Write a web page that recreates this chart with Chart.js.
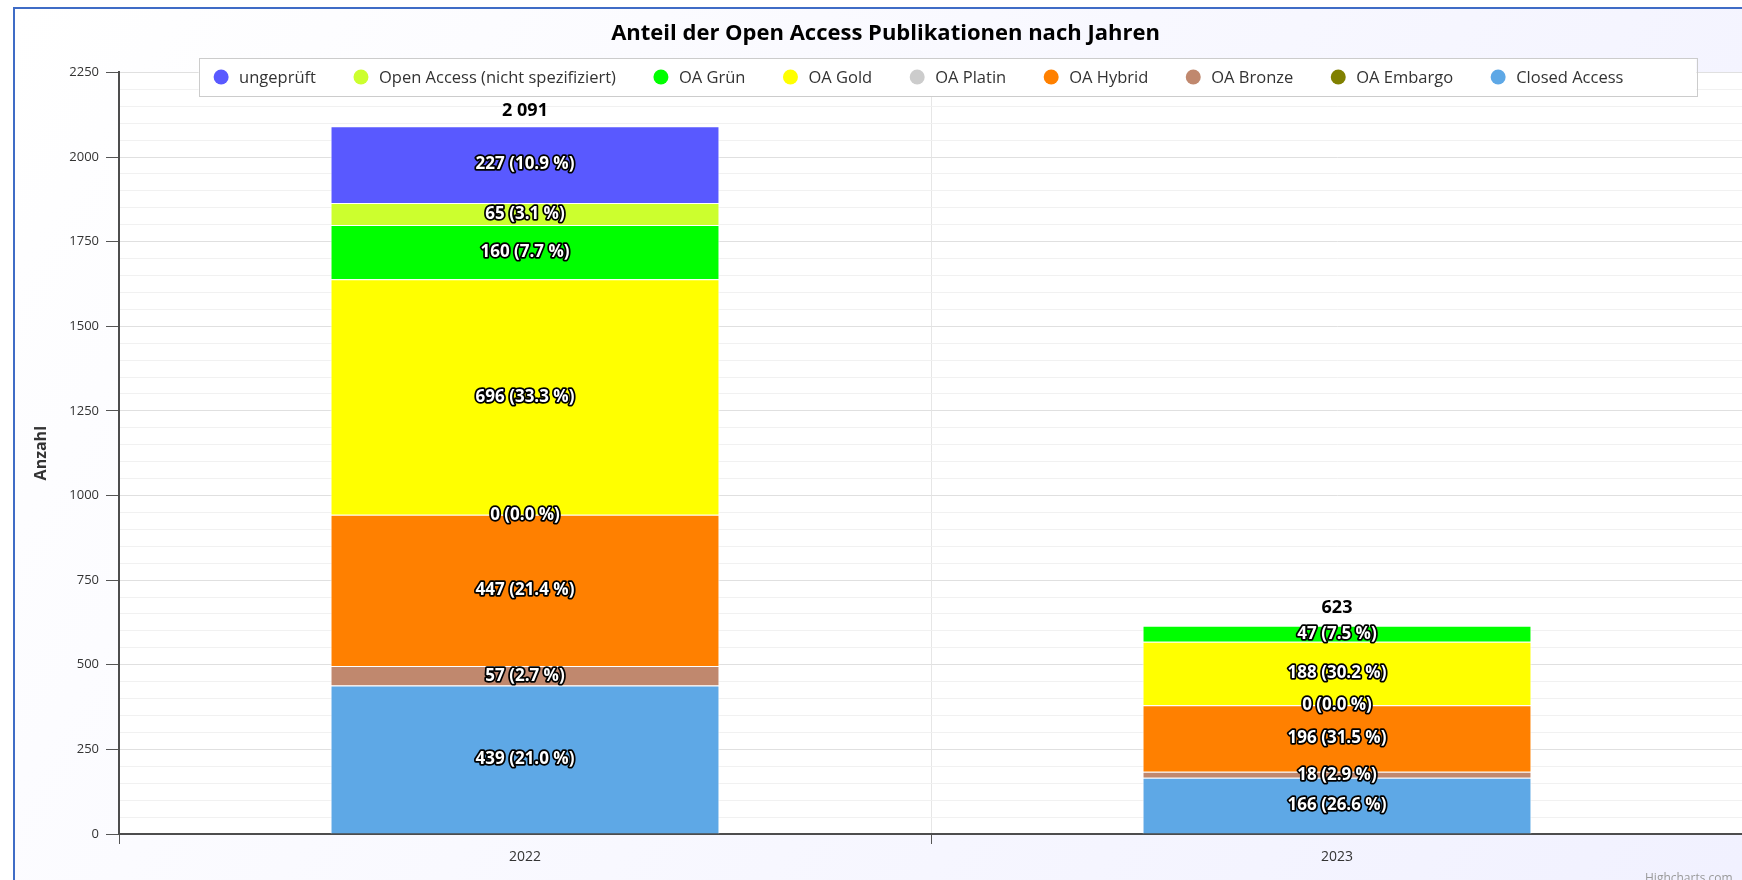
<!DOCTYPE html>
<html>
<head>
<meta charset="utf-8">
<title>Anteil der Open Access Publikationen nach Jahren</title>
<script src="https://cdn.jsdelivr.net/npm/chart.js@4.4.1/dist/chart.umd.min.js"></script>
<style>
  html, body { margin: 0; padding: 0; overflow: hidden; background: #fff; }
  #wrap { width: 1760px; height: 880px; }
</style>
</head>
<body>
<div id="wrap"><canvas id="oaChart" width="1760" height="880"></canvas></div>
<script>
// --- data ---
var categories = ['2022', '2023'];
var seriesNames = ['ungeprüft', 'Open Access (nicht spezifiziert)', 'OA Grün', 'OA Gold', 'OA Platin', 'OA Hybrid', 'OA Bronze', 'OA Embargo', 'Closed Access'];
var seriesColors = ['#5959ff', '#ccff2e', '#00ff00', '#ffff00', '#cccccc', '#ff8000', '#c0886e', '#808000', '#5ea8e6'];

var ungeprueft   = [227, null];
var oaNichtSpez  = [65, null];
var oaGruen      = [160, 47];
var oaGold       = [696, 188];
var oaPlatin     = [0, 0];
var oaHybrid     = [447, 196];
var oaBronze     = [57, 18];
var oaEmbargo    = [null, null];
var closedAccess = [439, 166];

var totals = [2091, 623];
var yMajorTicks = [0, 250, 500, 750, 1000, 1250, 1500, 1750, 2000, 2250];

var seriesValues = [ungeprueft, oaNichtSpez, oaGruen, oaGold, oaPlatin, oaHybrid, oaBronze, oaEmbargo, closedAccess];

var FONT = '"Open Sans", "Noto Sans", sans-serif';

function fmtThousands(n) {
	return String(n).replace(/\B(?=(\d{3})+(?!\d))/g, ' ');
}

// highcharts stacks the first series on top, so build them bottom-up
var datasets = [];
for (var i = seriesNames.length - 1; i >= 0; i--) {
	datasets.push({
		label: seriesNames[i],
		data: seriesValues[i],
		backgroundColor: seriesColors[i],
		borderColor: '#ffffff',
		borderWidth: 1,
		barPercentage: 0.479,
		categoryPercentage: 1.0
	});
}

var backgroundPlugin = {
	id: 'hcBackground',
	beforeDraw: function(chart) {
		var ctx = chart.ctx, a = chart.chartArea;
		ctx.save();
		ctx.fillStyle = '#ffffff';
		ctx.fillRect(0, 0, chart.width, chart.height);
		var g = ctx.createLinearGradient(14, 8, 1760, 1100);
		g.addColorStop(0, '#ffffff');
		g.addColorStop(1, '#f0f0ff');
		ctx.fillStyle = g;
		ctx.fillRect(14, 8, chart.width, chart.height);
		ctx.strokeStyle = '#3f6cc6';
		ctx.lineWidth = 2;
		ctx.strokeRect(14, 8, chart.width + 20, chart.height + 20);
		ctx.fillStyle = '#ffffff';
		ctx.fillRect(a.left, a.top, a.right - a.left, a.bottom - a.top);
		ctx.restore();
	}
};

var labelPlugin = {
	id: 'hcLabels',
	afterDatasetsDraw: function(chart) {
		var ctx = chart.ctx;
		var yScale = chart.scales.y;
		ctx.save();
		ctx.textAlign = 'center';
		ctx.textBaseline = 'middle';
		ctx.lineJoin = 'round';
		ctx.font = 'bold 17px ' + FONT;
		chart.data.datasets.forEach(function(ds, di) {
			var meta = chart.getDatasetMeta(di);
			meta.data.forEach(function(bar, j) {
				var v = ds.data[j];
				if (v === null || v === undefined) return;
				var pct = v / totals[j] * 100;
				var txt = v + ' (' + pct.toFixed(1) + ' %)';
				var y = (bar.y + bar.base) / 2;
				ctx.strokeStyle = '#000000';
				ctx.lineWidth = 3.5;
				ctx.strokeText(txt, bar.x, y);
				ctx.fillStyle = '#ffffff';
				ctx.fillText(txt, bar.x, y);
			});
		});
		// stack totals
		ctx.font = 'bold 18px ' + FONT;
		ctx.fillStyle = '#000000';
		var meta0 = chart.getDatasetMeta(0);
		totals.forEach(function(t, j) {
			var x = meta0.data[j].x;
			ctx.fillText(fmtThousands(t), x, yScale.getPixelForValue(t) - 15);
		});
		ctx.restore();
	}
};

var legendPlugin = {
	id: 'hcLegend',
	afterDraw: function(chart) {
		var ctx = chart.ctx;
		ctx.save();
		ctx.font = '16.5px ' + FONT;
		ctx.textBaseline = 'middle';
		ctx.textAlign = 'left';
		var r = 7.5, textGap = 18, itemGap = 45;
		var widths = seriesNames.map(function(n) { return ctx.measureText(n).width; });
		var inner = 0;
		widths.forEach(function(w, i) {
			inner += r + textGap + w;
			if (i < widths.length - 1) inner += itemGap;
		});
		var boxW = inner + 15 + 13;
		var boxL = 947.5 - boxW / 2, boxT = 58, boxH = 38;
		ctx.fillStyle = '#ffffff';
		ctx.fillRect(boxL, boxT, boxW, boxH);
		ctx.strokeStyle = '#cccccc';
		ctx.lineWidth = 1;
		ctx.strokeRect(Math.round(boxL) + 0.5, boxT + 0.5, Math.round(boxW), boxH);
		var cy = boxT + boxH / 2;
		var x = boxL + 15;
		seriesNames.forEach(function(n, i) {
			var cx = x + r;
			ctx.beginPath();
			ctx.arc(cx, cy, r, 0, Math.PI * 2);
			ctx.fillStyle = seriesColors[i];
			ctx.fill();
			ctx.fillStyle = '#333333';
			ctx.fillText(n, cx + textGap, cy + 1);
			x = cx + textGap + widths[i] + itemGap - r;
		});
		// credits, cut off at the bottom like in the screenshot
		ctx.font = '12px ' + FONT;
		ctx.fillStyle = '#999999';
		ctx.textBaseline = 'alphabetic';
		ctx.fillText('Highcharts.com', 1645, 882);
		ctx.restore();
	}
};

new Chart(document.getElementById('oaChart'), {
	type: 'bar',
	data: {
		labels: categories,
		datasets: datasets
	},
	options: {
		responsive: false,
		devicePixelRatio: 1,
		animation: false,
		layout: { padding: { left: 28, right: 17, top: 0, bottom: 0 } },
		plugins: {
			legend: { display: false },
			tooltip: { enabled: false },
			title: {
				display: true,
				text: 'Anteil der Open Access Publikationen nach Jahren',
				color: '#000000',
				font: { family: FONT, size: 22, weight: 'bold' },
				padding: { top: 21, bottom: 25 }
			}
		},
		scales: {
			x: {
				stacked: true,
				offset: true,
				afterFit: function(s) { s.height = 46; },
				grid: {
					offset: true,
					color: '#e6e6e6',
					tickColor: '#555555',
					tickLength: 10
				},
				border: { color: '#4d4d4d', width: 2 },
				ticks: { color: '#333333', padding: 5, font: { family: FONT, size: 14 } }
			},
			y: {
				stacked: true,
				min: 0,
				max: 2250,
				afterFit: function(s) { s.width = 91; },
				title: {
					display: true,
					text: 'Anzahl',
					color: '#333333',
					font: { family: FONT, size: 16, weight: 'bold' },
					padding: { top: 4, bottom: 0 }
				},
				grid: {
					color: function(c) { return c.tick && yMajorTicks.indexOf(c.tick.value) >= 0 ? '#e0e0e0' : '#f1f1f1'; },
					tickColor: function(c) { return c.tick && yMajorTicks.indexOf(c.tick.value) >= 0 ? '#555555' : 'rgba(0,0,0,0)'; },
					tickLength: 13
				},
				border: { color: '#4d4d4d', width: 2 },
				ticks: {
					stepSize: 50,
					autoSkip: false,
					padding: 7,
					color: '#333333',
					font: { family: FONT, size: 13 },
					callback: function(v) { return yMajorTicks.indexOf(v) >= 0 ? String(v) : ''; }
				}
			}
		}
	},
	plugins: [backgroundPlugin, labelPlugin, legendPlugin]
});
</script>
</body>
</html>
